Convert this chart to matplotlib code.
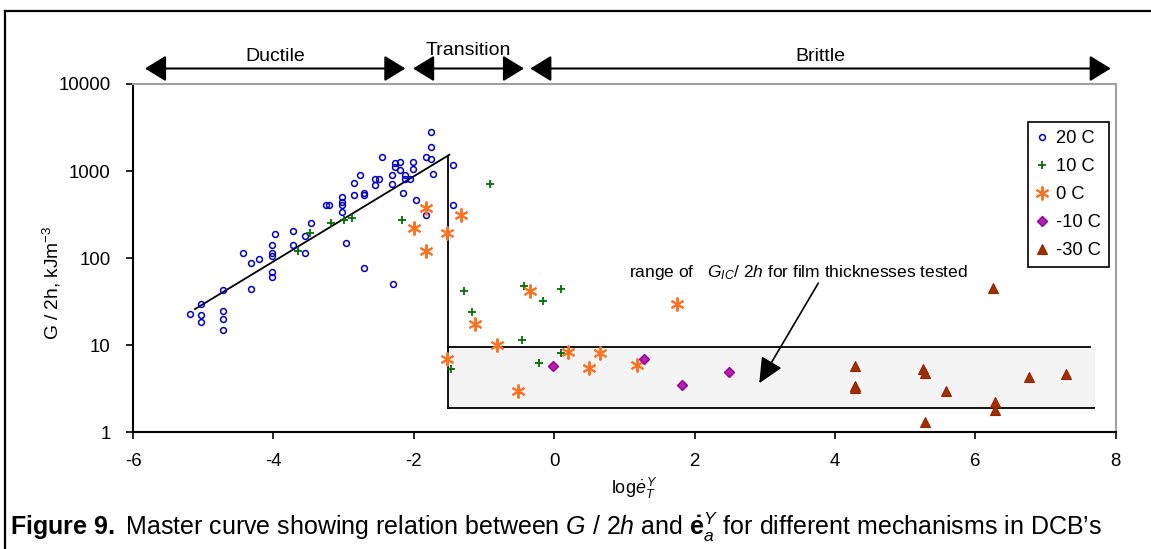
import matplotlib
matplotlib.use("Agg")
import matplotlib.pyplot as plt
import matplotlib.transforms as mtransforms
from matplotlib.lines import Line2D

plt.rcParams['font.family'] = ['Liberation Sans', 'DejaVu Sans']
plt.rcParams['mathtext.fontset'] = 'custom'
plt.rcParams['mathtext.rm'] = 'Liberation Sans'
plt.rcParams['mathtext.it'] = 'Liberation Sans:italic'
plt.rcParams['mathtext.bf'] = 'Liberation Sans:bold'

# данные: x = log(скорость деформации), y = G/2h, кДж/м^3
x_20 = [-1.753, -1.753, -2.456, -1.825, -1.753, -2.267, -2.195, -2.006, -2.267, -2.195,
        -2.006, -1.444, -2.761, -2.851, -2.547, -2.499, -2.314, -2.547, -2.314, -2.124,
        -2.124, -2.053, -1.729, -2.851, -2.713, -2.713, -2.148, -3.254, -3.207, -3.018,
        -3.018, -3.018, -3.018, -1.967, -1.444, -1.825, -3.46, -3.716, -3.55, -3.973,
        -4.02, -3.716, -4.438, -4.02, -4.02, -3.55, -4.205, -4.324, -2.965, -2.713,
        -4.02, -4.02, -4.324, -2.291, -4.718, -5.028, -5.189, -5.028, -4.718, -5.028,
        -4.718, -4.718]
y_20 = [2775, 1880, 1440, 1440, 1365, 1230, 1272, 1272, 1104, 1028,
        1048, 1165, 893, 722, 818, 818, 893, 692, 717, 893,
        818, 818, 935, 530, 555, 530, 555, 406, 406, 507,
        444, 406, 341, 464, 406, 312, 252, 204, 178, 187,
        143, 143, 116, 116, 105, 116, 97, 89, 150, 78,
        69, 60, 44, 50, 43, 30, 23, 22, 25, 18.5,
        20, 15]

x_10 = [-3.645, -3.478, -3.179, -2.989, -2.875, -2.171, -1.283, -1.169, -0.912, -0.423,
        0.10, -0.161, -0.456, 0.10, -0.21, -1.468]
y_10 = [121, 195, 252, 276, 288, 276, 42, 24, 717, 48,
        44, 32, 11.4, 8.2, 6.3, 5.4]

x_0 = [-1.825, -1.991, -1.825, -1.521, -1.33, -1.122, -0.338, -0.817, 0.195, 0.656,
       -1.521, 0.495, 1.179, -0.513, 1.753]
y_0 = [372, 221, 120, 193, 312, 17.7, 42, 10, 8.4, 8.1,
       7.0, 5.5, 6.0, 3.0, 30]

x_m10 = [-0.01, 1.279, 1.825, 2.495]
y_m10 = [5.8, 6.9, 3.45, 4.9]

x_m30 = [6.254, 4.291, 4.291, 4.291, 5.25, 5.279, 5.584, 5.279, 6.277, 6.286, 6.771, 7.289]
y_m30 = [45, 5.8, 3.4, 3.2, 5.4, 4.8, 3.0, 1.32, 2.2, 1.8, 4.3, 4.7]

# мастер-кривая (пластичный участок) и полоса G_IC/2h
master_x = [-5.118, -1.493]
master_y = [26, 1540]
step_x = -1.518
band_lo, band_hi = 1.89, 9.64
band_right = 7.64

# зоны сверху
zones = ["Ductile", "Transition", "Brittle"]
zone_from = [-5.83, -2.01, -0.34]
zone_to = [-2.12, -0.43, 7.93]

fig = plt.figure(figsize=(11.51, 5.49), dpi=100)
ax = fig.add_axes([0.1156, 0.2126, 0.8537, 0.6344])
ax.set_yscale('log')
ax.set_xlim(-6, 8)
ax.set_ylim(1, 10000)

# полоса диапазона G_IC/2h
ax.fill_between([step_x, band_right + 0.07], band_lo, band_hi, color='#f4f4f4', lw=0, zorder=0)
ax.plot([step_x, band_right], [band_hi, band_hi], color='k', lw=1.3, zorder=1)
ax.plot([step_x, band_right + 0.05], [band_lo, band_lo], color='k', lw=1.3, zorder=1)
ax.plot(master_x, master_y, color='k', lw=1.3, zorder=1)
ax.plot([step_x, step_x], [master_y[1] * 0.96, band_lo], color='k', lw=1.3, zorder=1)

ax.plot(x_20, y_20, 'o', ls='none', ms=4.2, mfc='none', mec='#0000cc', mew=1.1, label='20 C', zorder=3)
ax.plot(x_10, y_10, '+', ls='none', ms=6, mec='#007000', mew=1.3, label='10 C', zorder=3)
ax.plot(x_0, y_0, marker=(6, 2, 0), ls='none', ms=10, mec='#ff7020', mew=1.4, label='0 C', zorder=3)
ax.plot(x_m10, y_m10, 'D', ls='none', ms=5, mfc='#b020b0', mec='#990099', mew=1, label='-10 C', zorder=3)
ax.plot(x_m30, y_m30, '^', ls='none', ms=6.5, mfc='#a03000', mec='#992200', mew=0.8, label='-30 C', zorder=3)

# подпись и стрелка внутри графика
ax.text(1.06, 61, r"range of   $G_{IC}$/ $\mathit{2h}$ for film thicknesses tested",
        fontsize=12.5, va='baseline', ha='left')
ax.annotate('', xy=(2.922, 3.66), xytext=(3.763, 51.6),
            arrowprops=dict(arrowstyle='-|>,head_length=1.55,head_width=0.72', mutation_scale=10,
                            color='k', lw=1.2, shrinkA=0, shrinkB=0))

# стрелки зон над осями
trans = mtransforms.blended_transform_factory(ax.transData, ax.transAxes)
for name, a, b in zip(zones, zone_from, zone_to):
    ax.annotate('', xy=(b, 1.0445), xytext=(a, 1.0445), xycoords=trans, textcoords=trans,
                arrowprops=dict(arrowstyle='<|-|>,head_length=1.3,head_width=0.8', mutation_scale=10,
                                color='k', lw=1.5, shrinkA=0, shrinkB=0), annotation_clip=False)
    ty = 1.066 if name != "Transition" else 1.083
    ax.text((a + b) / 2, ty, name, transform=trans, ha='center', va='baseline', fontsize=14)

# оси
ax.set_xticks([-6, -4, -2, 0, 2, 4, 6, 8])
ax.set_xticklabels(['-6', '-4', '-2', '0', '2', '4', '6', '8'])
ax.set_yticks([1, 10, 100, 1000, 10000])
ax.set_yticklabels(['1', '10', '100', '1000', '10000'])
ax.yaxis.set_minor_locator(matplotlib.ticker.NullLocator())
ax.tick_params(axis='both', labelsize=13.4, length=5, width=1.2, direction='out')
ax.tick_params(axis='y', pad=11)
ax.tick_params(axis='x', pad=10)
for s in ['left', 'bottom']:
    ax.spines[s].set_color('k')
    ax.spines[s].set_linewidth(1.5)
for s in ['top', 'right']:
    ax.spines[s].set_color('#a0a0a0')
    ax.spines[s].set_linewidth(1.5)

ax.set_ylabel(r"G / 2h, kJm$^{-3}$", fontsize=13.8)
ax.yaxis.set_label_coords(-0.071, 0.43)
ax.set_xlabel(r"log$\mathit{\dot{e}}^{\,Y}_{T}$", fontsize=13)
ax.xaxis.set_label_coords(0.51, -0.125)

leg = ax.legend(loc='upper right', bbox_to_anchor=(0.993, 0.891), fontsize=13.2, frameon=True,
                fancybox=False, edgecolor='k', framealpha=1, handlelength=0.6, handletextpad=0.45,
                labelspacing=0.6, borderpad=0.45, borderaxespad=0)
leg.get_frame().set_linewidth(1.2)

# подпись рисунка
fig.text(10 / 1151, 1 - 535 / 549,
         r"$\mathbf{Figure\ 9.}$ Master curve showing relation between $\mathit{G\ /\ 2h}$ and "
         r"$\mathbf{\dot{e}}^{Y}_{a}$ for different mechanisms in DCB’s",
         fontsize=18, ha='left', va='baseline')

# внешняя рамка
fx = 4.5 / 1151
fy = 1 - 10.5 / 549
fig.add_artist(Line2D([fx, 1.0], [fy, fy], transform=fig.transFigure, color='k', lw=1.6))
fig.add_artist(Line2D([fx, fx], [0, fy], transform=fig.transFigure, color='k', lw=1.6))

fig.savefig('out.png', dpi=100)
